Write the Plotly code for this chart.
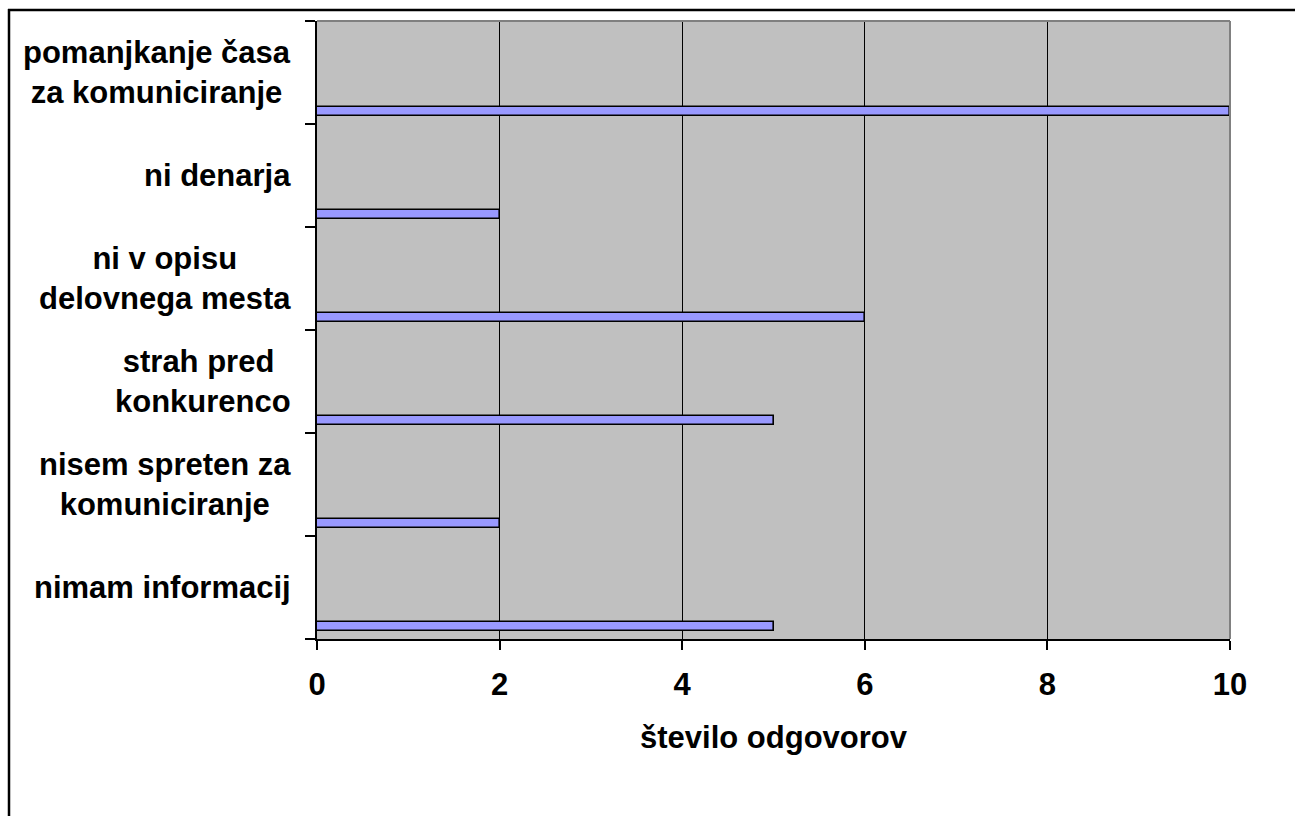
import plotly.graph_objects as go

# Survey answers: reasons for not communicating (bottom to top)
categories = [
    "nimam informacij",
    "nisem spreten za<br>komuniciranje",
    "strah pred <br>konkurenco",
    "ni v opisu<br>delovnega mesta",
    "ni denarja",
    "pomanjkanje časa<br>za komuniciranje",
]
counts = [5, 2, 5, 6, 2, 10]
x_ticks = [0, 2, 4, 6, 8, 10]
x_title = "število odgovorov"

positions = list(range(len(categories)))
FONT = dict(family="Liberation Sans, Arial, sans-serif", size=31, color="black", weight="bold")

W, H = 1295, 816
L, R, T, B = 317, 65, 21, 177
pw, ph = W - L - R, H - T - B

fig = go.Figure()
fig.add_trace(go.Bar(
    x=counts,
    y=positions,
    orientation="h",
    width=0.088,
    offset=-0.424,
    marker=dict(color="#9999FF", line=dict(color="black", width=1.6)),
    hoverinfo="x",
))

# category labels, lines centred within each label block
for pos, label in zip(positions, categories):
    fig.add_annotation(
        x=0, xref="paper", y=pos, yref="y",
        text=label, showarrow=False,
        xanchor="right", yanchor="middle", align="center",
        xshift=-24, font=FONT,
    )

# plot-area frame: grey on the top and right edges
fig.add_shape(type="line", xref="paper", yref="paper", x0=0, x1=1, y0=1, y1=1,
              line=dict(color="#808080", width=2), layer="above")
fig.add_shape(type="line", xref="paper", yref="paper", x0=1, x1=1, y0=0, y1=1,
              line=dict(color="#808080", width=2), layer="above")

# outer chart border (top and left edges fall inside the page)
def px_x(p):
    return (p - L) / pw

def px_y(p):
    return (H - B - p) / ph

fig.add_shape(type="line", xref="paper", yref="paper",
              x0=px_x(8), x1=px_x(W + 5), y0=px_y(10), y1=px_y(10),
              line=dict(color="black", width=2.5))
fig.add_shape(type="line", xref="paper", yref="paper",
              x0=px_x(9), x1=px_x(9), y0=px_y(9), y1=px_y(H + 5),
              line=dict(color="black", width=2.5))

fig.update_layout(
    width=W, height=H,
    margin=dict(l=L, r=R, t=T, b=B, pad=0),
    paper_bgcolor="white",
    plot_bgcolor="#C0C0C0",
    showlegend=False,
    bargap=0,
    font=FONT,
)
fig.update_xaxes(
    range=[0, 10],
    tickvals=x_ticks,
    ticks="outside", ticklen=9, tickwidth=1.5, tickcolor="black",
    ticklabelstandoff=8,
    showgrid=True, gridcolor="black", gridwidth=1.4,
    showline=True, linecolor="black", linewidth=1.6,
    zeroline=False,
    tickfont=FONT,
    title=dict(text=x_title, font=FONT, standoff=25),
)
fig.update_yaxes(
    range=[-0.5, len(categories) - 0.5],
    tickvals=[p - 0.5 for p in positions] + [len(categories) - 0.5],
    showticklabels=False,
    ticks="outside", ticklen=10, tickwidth=1.5, tickcolor="black",
    showgrid=False, zeroline=False,
    showline=True, linecolor="black", linewidth=1.6,
)

fig.write_html("out.html")
